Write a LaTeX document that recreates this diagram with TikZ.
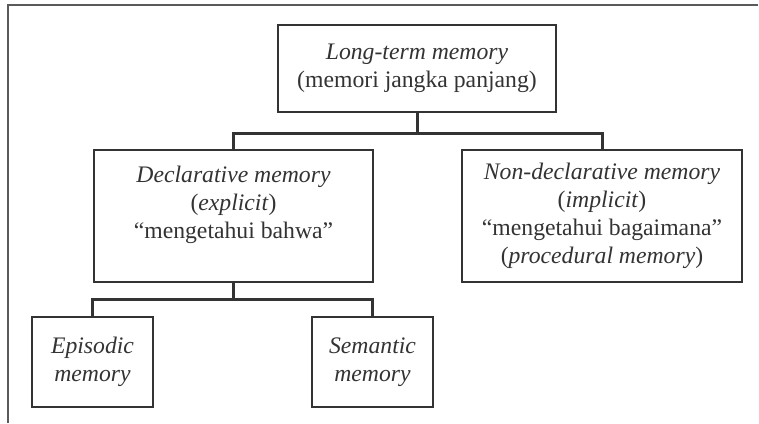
\documentclass[tikz,border=0pt]{standalone}
\usepackage{fontspec}
\setmainfont{Liberation Serif}
\definecolor{boxgray}{HTML}{333333}
\definecolor{framegray}{HTML}{5A5A5A}
\begin{document}
\begin{tikzpicture}[
    x=1pt, y=-1pt,
    every node/.style={align=center, font=\fontsize{23.7}{28}\selectfont, text=boxgray},
    memory box/.style={draw=boxgray, line width=1.5pt, inner sep=0pt},
    branch line/.style={draw=boxgray, line width=3pt},
    frame line/.style={draw=framegray, line width=1.2pt},
    ]
\useasboundingbox (0,0) rectangle (759,423);
\draw[frame line] (8,423) -- (8,5) -- (758,5);
\node[memory box, minimum width=278pt, minimum height=87pt] (LTM) at (417,68.5) {\textit{Long-term memory}\\(memori jangka panjang)};
\node[memory box, minimum width=279pt, minimum height=132pt] (DECL) at (233.5,216) {\textit{Declarative memory}\\(\textit{explicit})\\“mengetahui bahwa”\\\mbox{}};
\node[memory box, minimum width=280pt, minimum height=132pt] (NONDECL) at (602,216) {\textit{Non-declarative memory}\\(\textit{implicit})\\“mengetahui bagaimana”\\(\textit{procedural memory})};
\node[memory box, minimum width=121pt, minimum height=90pt] (EPI) at (92.5,362) {\textit{Episodic}\\\textit{memory}};
\node[memory box, minimum width=121pt, minimum height=90pt] (SEM) at (372.5,362) {\textit{Semantic}\\\textit{memory}};
\coordinate (LTMfork) at (417,133);
\coordinate (DECLfork) at (233.5,299);
\draw[branch line] (LTM.south) -- (LTMfork);
\draw[branch line] (DECL.north) -- (DECL.north |- LTMfork) -- (NONDECL.north |- LTMfork) -- (NONDECL.north);
\draw[branch line] (DECL.south) -- (DECLfork);
\draw[branch line] (EPI.north) -- (EPI.north |- DECLfork) -- (SEM.north |- DECLfork) -- (SEM.north);
\end{tikzpicture}
\end{document}
